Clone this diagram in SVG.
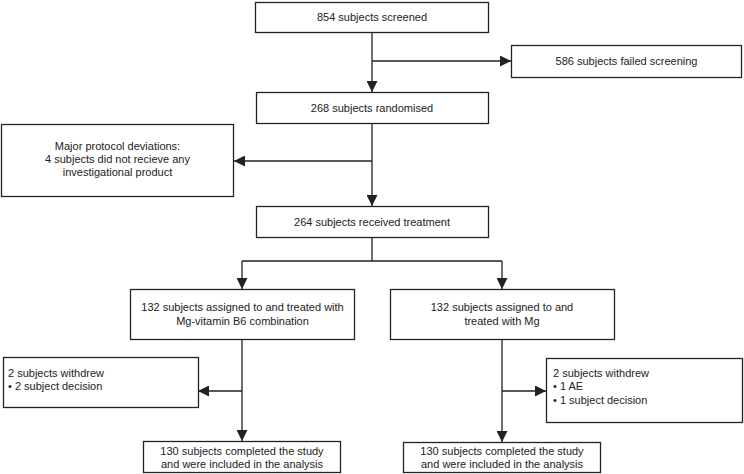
<svg xmlns="http://www.w3.org/2000/svg" width="744" height="474" viewBox="0 0 744 474">
<style>
.box{fill:#fff;stroke:#222;stroke-width:1.3}
.t{font-family:"Liberation Sans",Arial,sans-serif;font-size:11px;fill:#222}
.c{text-anchor:middle}
.ln{stroke:#222;stroke-width:1.3;fill:none}
</style>
<defs>
<marker id="ah" markerUnits="userSpaceOnUse" markerWidth="11" markerHeight="11" refX="11" refY="5.5" orient="auto">
<path d="M0,0 L11,5.5 L0,11 z" fill="#222"/>
</marker>
</defs>
<rect width="744" height="474" fill="#fff"/>
<g id="connectors">
<path class="ln" d="M372,32 V92" marker-end="url(#ah)"/>
<path class="ln" d="M372,61 H511" marker-end="url(#ah)"/>
<path class="ln" d="M372,123 V206" marker-end="url(#ah)"/>
<path class="ln" d="M372,161 H234" marker-end="url(#ah)"/>
<path class="ln" d="M372,237 V261 M242,261 H502"/>
<path class="ln" d="M242,261 V289" marker-end="url(#ah)"/>
<path class="ln" d="M502,261 V289" marker-end="url(#ah)"/>
<path class="ln" d="M242,339 V441" marker-end="url(#ah)"/>
<path class="ln" d="M242,391 H198" marker-end="url(#ah)"/>
<path class="ln" d="M502,339 V442" marker-end="url(#ah)"/>
<path class="ln" d="M502,391 H546" marker-end="url(#ah)"/>
</g>
<g id="screened">
<rect class="box" x="255.5" y="2.5" width="233" height="30"/>
<text class="t c" x="372" y="21">854 subjects screened</text>
</g>
<g id="failed">
<rect class="box" x="511.5" y="45.5" width="230" height="32"/>
<text class="t c" x="626.5" y="65">586 subjects failed screening</text>
</g>
<g id="randomised">
<rect class="box" x="256.5" y="92.5" width="232" height="31"/>
<text class="t c" x="372" y="112">268 subjects randomised</text>
</g>
<g id="deviations">
<rect class="box" x="1.5" y="124.5" width="232" height="72"/>
<text class="t c" x="117.5" y="150">Major protocol deviations:</text>
<text class="t c" x="117.5" y="163">4 subjects did not recieve any</text>
<text class="t c" x="117.5" y="176">investigational product</text>
</g>
<g id="treated">
<rect class="box" x="256.5" y="206.5" width="232" height="31"/>
<text class="t c" x="372" y="226">264 subjects received treatment</text>
</g>
<g id="armB6">
<rect class="box" x="130.5" y="289.5" width="224" height="50"/>
<text class="t c" x="242.5" y="311">132 subjects assigned to and treated with</text>
<text class="t c" x="242.5" y="325">Mg-vitamin B6 combination</text>
</g>
<g id="armMg">
<rect class="box" x="390.5" y="289.5" width="224" height="50"/>
<text class="t c" x="502" y="311">132 subjects assigned to and</text>
<text class="t c" x="502" y="325">treated with Mg</text>
</g>
<g id="withdrewB6">
<rect class="box" x="3.5" y="357.5" width="195" height="50"/>
<text class="t" x="8" y="377">2 subjects withdrew</text>
<text class="t" x="8" y="390">• 2 subject decision</text>
</g>
<g id="withdrewMg">
<rect class="box" x="546.5" y="358.5" width="196" height="64"/>
<text class="t" x="553" y="377">2 subjects withdrew</text>
<text class="t" x="553" y="390">• 1 AE</text>
<text class="t" x="553" y="404">• 1 subject decision</text>
</g>
<g id="completedB6">
<rect class="box" x="143.5" y="441.5" width="197" height="31"/>
<text class="t c" x="242" y="455">130 subjects completed the study</text>
<text class="t c" x="242" y="468">and were included in the analysis</text>
</g>
<g id="completedMg">
<rect class="box" x="403.5" y="442.5" width="197" height="30"/>
<text class="t c" x="502" y="455">130 subjects completed the study</text>
<text class="t c" x="502" y="468">and were included in the analysis</text>
</g>
</svg>
